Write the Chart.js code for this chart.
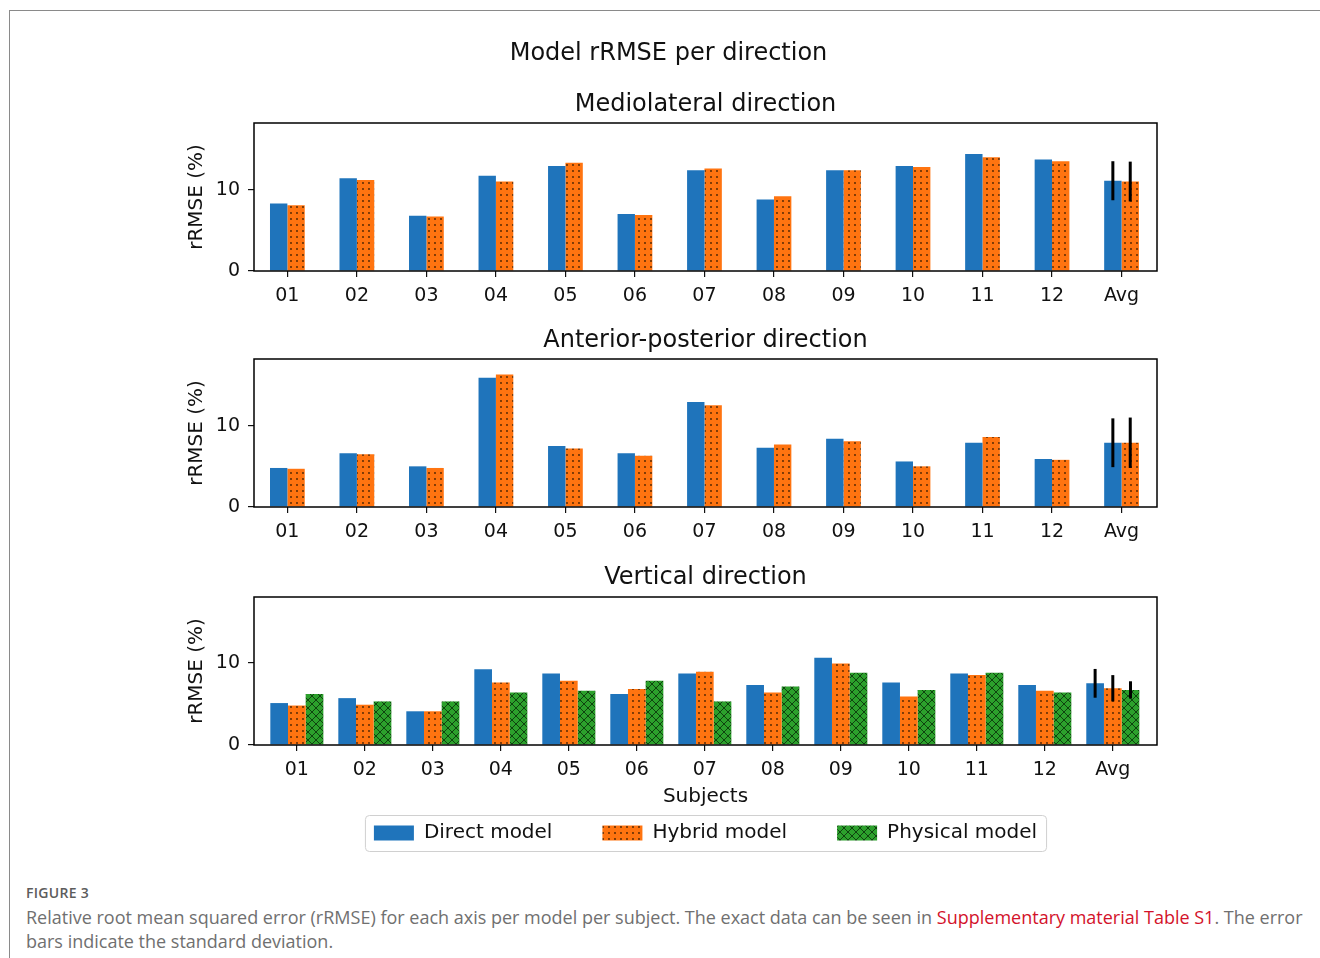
<!DOCTYPE html>
<html>
<head>
<meta charset="utf-8">
<script src="https://cdn.jsdelivr.net/npm/chart.js@4.4.1/dist/chart.umd.min.js"></script>
<style>
  body { margin: 0; background: #fff; width: 1320px; height: 958px; overflow: hidden; position: relative; }
  #frame { position: absolute; left: 9px; top: 10px; width: 1400px; height: 1000px; border: 1px solid #8a8a8a; }
  canvas { position: absolute; left: 0; }
  #caption { position: absolute; left: 26px; top: 881px; font-family: "Open Sans", sans-serif; color: #707070; font-size: 18px; line-height: 24px; }
  #caption .fig { font-size: 14px; font-weight: 600; color: #5c5c5c; letter-spacing: 0.3px; }
  #caption .link { color: #d3122a; }
  #caption .l1 { white-space: nowrap; }
</style>
</head>
<body>
<div id="frame"></div>
<canvas id="ml" width="1320" height="320" style="top:0px"></canvas>
<canvas id="ap" width="1320" height="240" style="top:320px"></canvas>
<canvas id="vt" width="1320" height="300" style="top:560px"></canvas>
<div id="caption">
  <div class="fig">FIGURE 3</div>
  <div class="l1">Relative root mean squared error (rRMSE) for each axis per model per subject. The exact data can be seen in <span class="link">Supplementary material Table S1</span>. The error</div>
  <div>bars indicate the standard deviation.</div>
</div>
<script>
//subjects on the x axis (last one is the average)
const subjects = ['01', '02', '03', '04', '05', '06', '07', '08', '09', '10', '11', '12', 'Avg'];

//mediolateral direction
const mlDirect = [8.3, 11.4, 6.8, 11.7, 12.9, 7.0, 12.4, 8.8, 12.4, 12.9, 14.4, 13.7, 11.1];
const mlHybrid = [8.1, 11.2, 6.7, 11.0, 13.3, 6.9, 12.6, 9.2, 12.4, 12.8, 14.0, 13.5, 11.0];
const mlSd = [2.4, 2.45];

//anterior-posterior direction
const apDirect = [4.8, 6.6, 5.0, 15.9, 7.5, 6.6, 12.9, 7.3, 8.4, 5.6, 7.9, 5.9, 7.9];
const apHybrid = [4.7, 6.5, 4.8, 16.3, 7.2, 6.3, 12.5, 7.7, 8.1, 5.0, 8.6, 5.8, 7.9];
const apSd = [3.0, 3.1];

//vertical direction
const vDirect = [5.1, 5.7, 4.1, 9.2, 8.7, 6.2, 8.7, 7.3, 10.6, 7.6, 8.7, 7.3, 7.5];
const vHybrid = [4.8, 4.9, 4.1, 7.6, 7.8, 6.8, 8.9, 6.4, 9.9, 5.9, 8.5, 6.6, 6.9];
const vPhysical = [6.2, 5.3, 5.3, 6.4, 6.6, 7.8, 5.3, 7.1, 8.8, 6.7, 8.8, 6.4, 6.7];
const vSd = [1.75, 1.6, 1.05];

const TXT = '#111';
Chart.defaults.font.family = "'DejaVu Sans', sans-serif";
Chart.defaults.color = TXT;

//hatch patterns like matplotlib '..' and 'xx'
const dotPattern = (base) => {
  const c = document.createElement('canvas');
  c.width = 6; c.height = 6;
  const g = c.getContext('2d');
  g.fillStyle = base; g.fillRect(0, 0, 6, 6);
  g.fillStyle = 'rgba(40,20,0,0.85)';
  g.beginPath(); g.arc(3, 3, 0.9, 0, Math.PI * 2); g.fill();
  return g.createPattern(c, 'repeat');
};
const crossPattern = (base) => {
  const c = document.createElement('canvas');
  c.width = 8; c.height = 8;
  const g = c.getContext('2d');
  g.fillStyle = base; g.fillRect(0, 0, 8, 8);
  g.strokeStyle = 'rgba(10,50,10,0.85)';
  g.lineWidth = 1;
  g.beginPath();
  g.moveTo(0, 0); g.lineTo(8, 8);
  g.moveTo(8, 0); g.lineTo(0, 8);
  g.stroke();
  return g.createPattern(c, 'repeat');
};

const BLUE = '#1f74bb';
const ORANGE = dotPattern('#ff7410');
const GREEN = crossPattern('#2ca02c');

const pts = (arr) => arr.map((v, i) => ({x: i, y: v}));

//box around the axes
const axesFrame = {
  id: 'axesFrame',
  afterDatasetsDraw(chart) {
    const {ctx, chartArea: a} = chart;
    ctx.save();
    ctx.strokeStyle = '#000';
    ctx.lineWidth = 1.5;
    ctx.strokeRect(a.left, a.top, a.right - a.left, a.bottom - a.top);
    ctx.restore();
  }
};

//std error bars on the Avg group
const errorBars = {
  id: 'errorBars',
  afterDatasetsDraw(chart) {
    const {ctx} = chart;
    const y = chart.scales.y;
    ctx.save();
    ctx.strokeStyle = '#000';
    ctx.lineWidth = 3;
    chart.data.datasets.forEach((ds, i) => {
      if (ds.sd == null) return;
      const idx = ds.data.length - 1;
      const bar = chart.getDatasetMeta(i).data[idx];
      const v = ds.data[idx].y;
      ctx.beginPath();
      ctx.moveTo(bar.x, y.getPixelForValue(v - ds.sd));
      ctx.lineTo(bar.x, y.getPixelForValue(v + ds.sd));
      ctx.stroke();
    });
    ctx.restore();
  }
};

//light rounded box around the legend entries
const legendFrame = {
  id: 'legendFrame',
  afterDraw(chart) {
    const boxes = chart.legend && chart.legend.legendHitBoxes;
    if (!boxes || !boxes.length) return;
    const first = boxes[0], last = boxes[boxes.length - 1];
    const l = first.left - 9, r = last.left + last.width + 9;
    const t = first.top - 8, h = first.height + 16;
    const ctx = chart.ctx;
    ctx.save();
    ctx.strokeStyle = '#d0d0d0';
    ctx.lineWidth = 1;
    ctx.beginPath();
    ctx.roundRect(l + 0.5, t + 0.5, r - l, h, 4);
    ctx.stroke();
    ctx.restore();
  }
};

//x axis is kept short so the legend sits close, then given room for its labels and title
const xAxisRoom = {
  id: 'xAxisRoom',
  afterLayout(chart) {
    const x = chart.scales.x;
    x.bottom = x.top + 62;
  }
};

const xAxis = (min, max, height, withTitle) => ({
  type: 'linear',
  min: min,
  max: max,
  offset: false,
  afterBuildTicks: (axis) => { axis.ticks = subjects.map((s, i) => ({value: i})); },
  afterFit: (scale) => { scale.height = height; },
  grid: {display: true, drawOnChartArea: false, drawTicks: true, tickLength: 6, color: TXT, lineWidth: 1.2, offset: false},
  border: {display: false},
  ticks: {
    callback: (v) => subjects[v],
    autoSkip: false,
    maxRotation: 0,
    padding: 8,
    color: TXT,
    font: {size: 19}
  },
  title: {
    display: withTitle,
    text: 'Subjects',
    color: TXT,
    font: {size: 20},
    padding: {top: 0, bottom: -2}
  }
});

const yAxis = (max) => ({
  min: 0,
  max: max,
  afterFit: (scale) => { scale.width = 74; },
  grid: {display: true, drawOnChartArea: false, drawTicks: true, tickLength: 6, color: TXT, lineWidth: 1.2},
  border: {display: false},
  ticks: {stepSize: 10, includeBounds: false, padding: 8, color: TXT, font: {size: 19}},
  title: {display: true, text: 'rRMSE (%)', color: TXT, font: {size: 20}, padding: {top: 5, bottom: 0}}
});

const titleFont = {size: 24, weight: 'normal'};

const makeChart = (id, datasets, cfg) => {
  return new Chart(document.getElementById(id), {
    type: 'bar',
    data: {datasets: datasets},
    options: {
      responsive: false,
      animation: false,
      devicePixelRatio: 1,
      layout: {padding: {top: 0, left: 180, right: 163, bottom: cfg.padBottom}},
      datasets: {bar: {barPercentage: 1, categoryPercentage: cfg.catPct, borderWidth: 0}},
      scales: {
        x: xAxis(cfg.xmin, cfg.xmax, cfg.xHeight, cfg.xTitle),
        y: yAxis(cfg.ymax)
      },
      plugins: {
        title: cfg.title,
        subtitle: cfg.subtitle || {display: false},
        legend: cfg.legend || {display: false},
        tooltip: {enabled: false}
      }
    },
    plugins: cfg.legend ? [xAxisRoom, axesFrame, errorBars, legendFrame] : [axesFrame, errorBars]
  });
};

makeChart('ml', [
  {label: 'Direct model', data: pts(mlDirect), backgroundColor: BLUE, sd: mlSd[0]},
  {label: 'Hybrid model', data: pts(mlHybrid), backgroundColor: ORANGE, sd: mlSd[1]}
], {
  xmin: -0.48, xmax: 12.51, xHeight: 45, xTitle: false, ymax: 18.2, catPct: 0.5, padBottom: 4,
  title: {display: true, text: 'Model rRMSE per direction', color: TXT, font: titleFont, padding: {top: 39, bottom: -3}},
  subtitle: {display: true, text: 'Mediolateral direction', color: TXT, font: titleFont, fullSize: false, padding: {top: 25.8, bottom: 3.6}}
});

makeChart('ap', [
  {label: 'Direct model', data: pts(apDirect), backgroundColor: BLUE, sd: apSd[0]},
  {label: 'Hybrid model', data: pts(apHybrid), backgroundColor: ORANGE, sd: apSd[1]}
], {
  xmin: -0.48, xmax: 12.51, xHeight: 45, xTitle: false, ymax: 18.2, catPct: 0.5, padBottom: 8,
  title: {display: true, text: 'Anterior-posterior direction', color: TXT, font: titleFont, fullSize: false, padding: {top: 6.6, bottom: 3.6}}
});

makeChart('vt', [
  {label: 'Direct model', data: pts(vDirect), backgroundColor: BLUE, sd: vSd[0]},
  {label: 'Hybrid model', data: pts(vHybrid), backgroundColor: ORANGE, sd: vSd[1]},
  {label: 'Physical model', data: pts(vPhysical), backgroundColor: GREEN, sd: vSd[2]}
], {
  xmin: -0.63, xmax: 12.65, xHeight: 28, xTitle: true, ymax: 18.0, catPct: 0.78, padBottom: 7,
  title: {display: true, text: 'Vertical direction', color: TXT, font: titleFont, fullSize: false, padding: {top: 3.6, bottom: 4.6}},
  legend: {
    display: true,
    position: 'bottom',
    fullSize: false,
    labels: {boxWidth: 40, boxHeight: 15, padding: 50, color: TXT, font: {size: 20}}
  }
});
</script>
</body>
</html>
